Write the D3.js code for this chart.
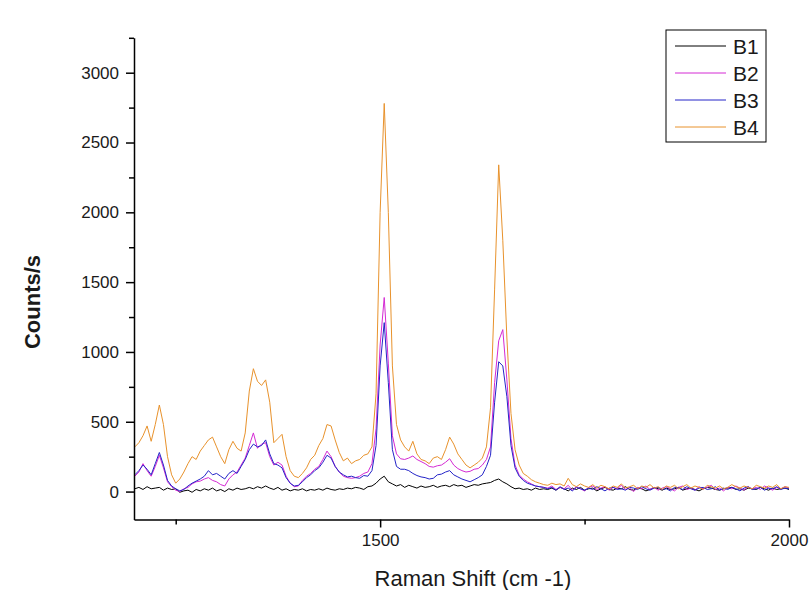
<!DOCTYPE html>
<html>
<head>
<meta charset="utf-8">
<script src="https://cdn.jsdelivr.net/npm/d3@7"></script>
<style>
  body { margin: 0; background: #fff; }
  svg { display: block; font-family: Arial, "Liberation Sans", sans-serif; }
</style>
</head>
<body>
<svg id="chart" width="809" height="590"></svg>
<script>
// Raman shift grid (cm-1), one sample every 5 cm-1
const shift = d3.range(1200, 2001, 5);

// Counts/s, rows of 10 starting at 1200, 1250, ...
const b1 = [
  20, 30, 15, 35, 20, 25, 30, 10, 25, 15,
  20, -5, 5, 10, -5, 15, 5, 20, 10, 25,
  5, 15, 0, 20, 10, 25, 15, 20, 30, 20,
  35, 25, 40, 25, 15, 30, 10, 20, 5, 15,
  10, 20, 5, 15, 10, 20, 10, 25, 15, 10,
  20, 15, 25, 20, 30, 25, 15, 35, 40, 60,
  90, 110, 70, 55, 40, 50, 30, 45, 35, 25,
  40, 30, 35, 45, 30, 40, 45, 35, 50, 40,
  45, 30, 40, 50, 45, 55, 60, 65, 80, 90,
  70, 55, 35, 20, 25, 15, 20, 10, 25, 15,
  20, 15, 25, 10, 30, 20, 5, 25, 15, 30,
  10, 20, 25, 5, 20, 30, 15, 10, 25, 20,
  35, 15, 10, 25, 20, 5, 15, 30, 20, 10,
  25, 15, 20, 30, 10, 20, 25, 15, 5, 20,
  30, 25, 15, 10, 20, 25, 30, 15, 20, 10,
  25, 20, 15, 30, 20, 10, 25, 15, 20, 25,
  15
];
const b2 = [
  110, 140, 200, 150, 110, 180, 260, 170, 70, 35,
  10, 0, 20, 30, 55, 70, 75, 90, 100, 80,
  70, 50, 40, 90, 120, 140, 190, 240, 330, 420,
  310, 340, 350, 250, 190, 210, 190, 110, 60, 35,
  40, 80, 110, 130, 160, 180, 230, 290, 250, 180,
  140, 110, 100, 95, 100, 110, 130, 140, 200, 450,
  1050, 1390, 920, 400, 270, 235, 230, 240, 255, 230,
  215, 200, 180, 175, 185, 190, 210, 235, 190, 165,
  150, 140, 145, 160, 165, 190, 230, 320, 780, 1080,
  1160, 800, 380, 190, 120, 90, 70, 55, 40, 35,
  30, 25, 40, 15, 30, 20, 45, 10, 35, 20,
  5, 30, 40, 15, 25, 35, 10, 30, 20, 45,
  15, 25, 0, 30, 20, 40, 15, 30, 10, 25,
  35, 20, 5, 30, 40, 15, 25, 10, 35, 20,
  30, 45, 15, 25, 5, 30, 20, 40, 25, 10,
  35, 20, 30, 15, 40, 25, 10, 30, 20, 35,
  25
];
const b3 = [
  120, 150, 190, 160, 120, 200, 280, 190, 80, 40,
  20, 5, 15, 40, 60, 75, 90, 110, 150, 120,
  130, 110, 90, 130, 150, 130, 180, 230, 300, 340,
  320, 330, 370, 270, 200, 190, 170, 100, 60, 40,
  45, 70, 100, 120, 150, 170, 210, 260, 240, 180,
  140, 120, 105, 110, 100, 95, 115, 110, 150, 330,
  900, 1210, 780, 300, 180, 160, 160, 150, 130, 115,
  105, 100, 90, 95, 120, 125, 140, 150, 120, 105,
  90, 80, 70, 85, 100, 120, 180, 260, 640, 930,
  900, 680, 330, 170, 110, 80, 60, 50, 40, 35,
  30, 20, 30, 10, 35, 15, 25, 5, 30, 20,
  10, 25, 15, 35, 20, 5, 25, 30, 15, 20,
  10, 30, 25, 15, 35, 20, 10, 25, 30, 15,
  20, 5, 30, 25, 15, 35, 20, 10, 25, 30,
  15, 20, 35, 10, 25, 15, 30, 20, 5, 25,
  35, 15, 20, 30, 10, 25, 20, 35, 15, 25,
  20
];
const b4 = [
  320, 350, 400, 470, 360, 480, 620, 480, 250, 120,
  60, 90, 140, 200, 250, 230, 290, 330, 370, 390,
  320, 250, 200, 300, 360, 310, 290, 420, 720, 880,
  790, 760, 800, 640, 350, 380, 410, 250, 150, 110,
  100, 130, 170, 230, 260, 330, 380, 480, 470, 370,
  280, 220, 240, 200, 220, 230, 260, 270, 320, 700,
  2000, 2780, 2000, 900, 480, 370, 320, 290, 360, 270,
  230, 220, 200, 240, 250, 230, 300, 390, 340, 270,
  230, 190, 170, 190, 210, 240, 320, 600, 1450, 2340,
  1800, 1100, 560, 300, 190, 130, 110, 85, 70, 60,
  50, 45, 60, 50, 55, 40, 95, 50, 35, 55,
  40, 30, 50, 25, 45, 35, 20, 40, 30, 55,
  25, 35, 45, 20, 40, 30, 50, 25, 35, 15,
  40, 30, 45, 20, 35, 50, 25, 40, 30, 15,
  45, 35, 25, 40, 20, 30, 50, 35, 25, 40,
  30, 20, 45, 35, 25, 40, 30, 50, 20, 35,
  30
];

const seriesNames = ["B1", "B2", "B3", "B4"];
const seriesColors = ["#000000", "#d42ad4", "#2424c8", "#e8922c"];
const seriesValues = [b1, b2, b3, b4];

const xMajor = [1500, 2000];
const xMinor = [1250, 1750];
const yMajor = [0, 500, 1000, 1500, 2000, 2500, 3000];
const yMinor = [250, 750, 1250, 1750, 2250, 2750, 3250];

const svg = d3.select("#chart");
const plot = {left: 134, right: 789, top: 37.8, bottom: 519.5};

const x = d3.scaleLinear().domain([1199, 2000]).range([plot.left, plot.right]);
const y = d3.scaleLinear().domain([-200, 3250]).range([plot.bottom, plot.top]);

svg.append("rect").attr("width", 809).attr("height", 590).attr("fill", "#fff");

// spectra
const line = d3.line().x(d => x(d[0])).y(d => y(d[1]));
seriesValues.forEach(function (vals, i) {
  svg.append("path")
    .datum(shift.map((s, j) => [s, vals[j]]))
    .attr("fill", "none")
    .attr("stroke", seriesColors[i])
    .attr("stroke-width", 1)
    .attr("stroke-linejoin", "round")
    .attr("d", line);
});

// axes
const fmt = d3.format("d");
svg.append("g")
  .attr("transform", `translate(0,${plot.bottom})`)
  .call(d3.axisBottom(x).tickValues(xMajor).tickFormat(fmt).tickSize(8).tickSizeOuter(0).tickPadding(6));
svg.append("g")
  .attr("transform", `translate(0,${plot.bottom})`)
  .call(d3.axisBottom(x).tickValues(xMinor).tickSize(5).tickFormat(""))
  .select(".domain").remove();

svg.append("g")
  .attr("transform", `translate(${plot.left},0)`)
  .call(d3.axisLeft(y).tickValues(yMajor).tickFormat(fmt).tickSize(8).tickSizeOuter(0).tickPadding(7));
svg.append("g")
  .attr("transform", `translate(${plot.left},0)`)
  .call(d3.axisLeft(y).tickValues(yMinor).tickSize(5).tickFormat(""))
  .select(".domain").remove();

svg.selectAll(".domain, .tick line").attr("stroke", "#000").attr("stroke-width", 1.5);
svg.selectAll(".tick text")
  .attr("font-size", 17)
  .attr("font-family", "Arial, 'Liberation Sans', sans-serif")
  .attr("fill", "#1a1a1a");

// axis titles
svg.append("text")
  .attr("x", 473).attr("y", 586)
  .attr("text-anchor", "middle")
  .attr("font-size", 22)
  .attr("fill", "#1a1a1a")
  .text("Raman Shift (cm -1)");

svg.append("text")
  .attr("transform", "translate(32,302) rotate(-90)")
  .attr("text-anchor", "middle")
  .attr("dy", "0.35em")
  .attr("font-size", 22)
  .attr("font-weight", "bold")
  .attr("fill", "#1a1a1a")
  .text("Counts/s");

// legend
const legend = svg.append("g");
legend.append("rect")
  .attr("x", 666).attr("y", 30).attr("width", 100).attr("height", 112)
  .attr("fill", "#fff").attr("stroke", "#000").attr("stroke-width", 1);
seriesNames.forEach(function (name, i) {
  const ly = 46 + i * 27;
  legend.append("line")
    .attr("x1", 675).attr("x2", 726).attr("y1", ly).attr("y2", ly)
    .attr("stroke", seriesColors[i]).attr("stroke-width", 1);
  legend.append("text")
    .attr("x", 733).attr("y", ly)
    .attr("dy", "0.36em")
    .attr("font-size", 21)
    .attr("fill", "#1a1a1a")
    .text(name);
});
</script>
</body>
</html>
